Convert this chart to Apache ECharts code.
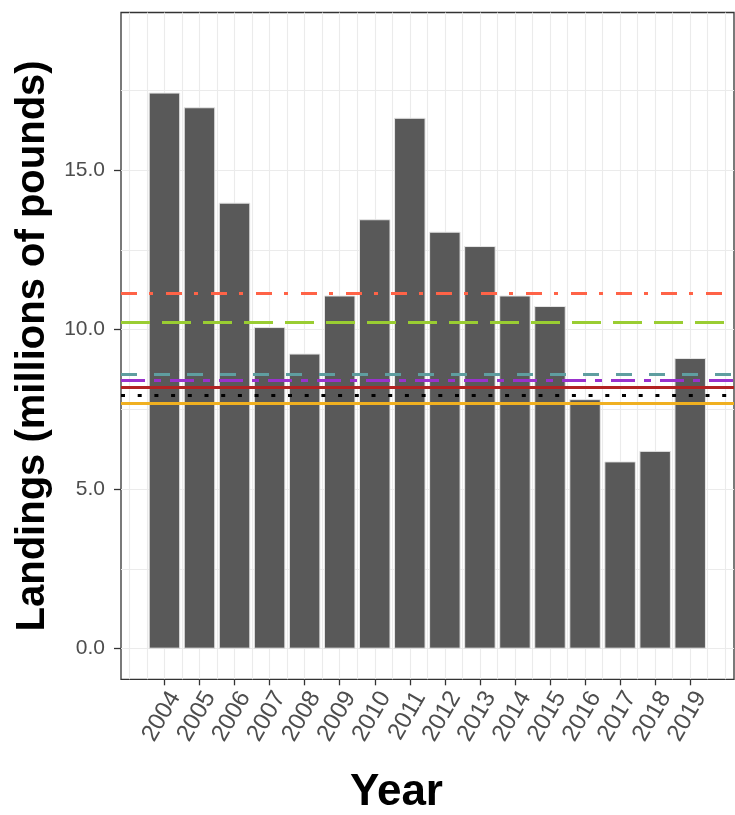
<!DOCTYPE html>
<html>
<head>
<meta charset="utf-8">
<script src="https://cdn.jsdelivr.net/npm/echarts@6/dist/echarts.min.js"></script>
<style>
html,body{margin:0;padding:0;background:#fff;}
#chart{width:735px;height:815px;}
</style>
</head>
<body>
<div id="chart"></div>
<script>
// ---- data ----
const years = [2004,2005,2006,2007,2008,2009,2010,2011,2012,2013,2014,2015,2016,2017,2018,2019];
const landings = [17.43,16.97,13.98,10.08,9.25,11.07,13.46,16.64,13.07,12.62,11.07,10.74,7.82,5.87,6.20,9.11];
const refValues = [11.13,10.22,8.60,8.42,8.20,7.95,7.70];
const yTicks = [0,5,10,15];
const xTicks = years;

// ---- styles ----
const refColors = ['#FF6347','#9ACD32','#5F9EA0','#9932CC','#B22222','#000000','#F0B020'];
const refDash = [[16,12,4,13],[29,12],[16,17],[24,9,7,9],'solid',[4,12.7],'solid'];

const xMin = 2002.76, xMax = 2020.25;
const yMin = -0.96, yMax = 19.94;

// gridlines (major at ticks, minor at midpoints)
const grids = [];
for (let v = Math.ceil(xMin*2)/2; v <= xMax; v += 0.5) grids.push({xAxis: v});
const yStep = yTicks[1]-yTicks[0];
for (let v = yTicks[0]; v <= yMax; v += yStep/2) grids.push({yAxis: v});

const chart = echarts.init(document.getElementById('chart'), null, {renderer:'canvas'});
chart.setOption({
  animation: false,
  backgroundColor: '#ffffff',
  grid: {left: 121, top: 12.5, right: 1, bottom: 135.7, show: true, borderColor: '#333333', borderWidth: 1.3, backgroundColor: '#ffffff', containLabel: false},
  xAxis: {
    type: 'value', min: xMin, max: xMax,
    axisLine: {show: false, onZero: false},
    splitLine: {show: false},
    axisTick: {show: true, customValues: xTicks, length: 6, lineStyle: {color: '#333333', width: 1.3}},
    axisLabel: {show: true, customValues: xTicks, rotate: 60, color: '#4D4D4D', fontSize: 24, fontFamily: 'Liberation Sans, Arial, sans-serif', margin: 8, verticalAlign: 'top', formatter: v => String(v)}
  },
  yAxis: {
    type: 'value', min: yMin, max: yMax,
    axisLine: {show: false, onZero: false},
    splitLine: {show: false},
    axisTick: {show: true, customValues: yTicks, length: 7, lineStyle: {color: '#333333', width: 1.3}},
    axisLabel: {show: true, customValues: yTicks, color: '#4D4D4D', fontSize: 21, fontFamily: 'Liberation Sans, Arial, sans-serif', margin: 16, formatter: v => v.toFixed(1)},
    name: 'Landings (millions of pounds)', nameLocation: 'middle', nameGap: 68,
    nameTextStyle: {color: '#000000', fontSize: 40, fontWeight: 'bold', fontFamily: 'Liberation Sans, Arial, sans-serif'}
  },
  graphic: [{type: 'text', left: 350, top: 771, style: {text: 'Year', fill: '#000', font: 'bold 44px "Liberation Sans", Arial, sans-serif'}}],
  series: [
    {type: 'line', name: 'grid', data: [[years[0], 0]], symbol: 'none', lineStyle: {opacity: 0}, silent: true, z: 0,
     markLine: {silent: true, z: 0, symbol: ['none','none'], label: {show: false}, lineStyle: {color: '#EBEBEB', width: 1.1, type: 'solid'}, data: grids}},
    {type: 'bar', name: 'Landings', data: years.map((y,i) => [y, landings[i]]), barWidth: 31.5, z: 2,
     itemStyle: {color: '#595959', borderColor: '#E6E6E6', borderWidth: 1}},
    {type: 'line', name: 'refs', data: [[years[0], 0]], symbol: 'none', lineStyle: {opacity: 0}, silent: true, z: 5,
     markLine: {silent: true, z: 5, symbol: ['none','none'], label: {show: false},
       data: refValues.map((v,i) => ({yAxis: v, lineStyle: {color: refColors[i], width: 3.2, type: refDash[i], cap: 'butt'}}))}}
  ]
});
</script>
</body>
</html>
